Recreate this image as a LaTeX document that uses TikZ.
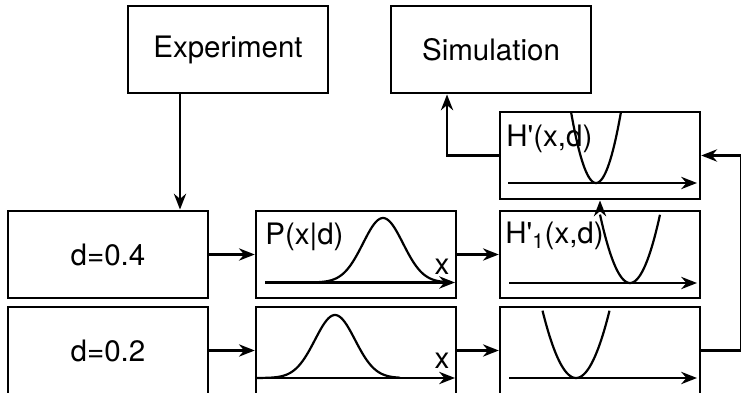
\documentclass[tikz,border=0pt]{standalone}
\usepackage{fontspec}
\usepackage{tikz}
\usetikzlibrary{arrows.meta}
\newfontfamily\boxfont{TeX Gyre Heros}

\begin{document}
\begin{tikzpicture}[
    box/.style={draw, line width=1.4pt, minimum width=4cm, minimum height=1.75cm, font=\boxfont\fontsize{16.8}{19}\selectfont},
    tag/.style={font=\boxfont\fontsize{16.8}{19}\selectfont, inner sep=0pt},
    arrow/.style={-{Stealth[length=9pt,width=7pt]}, line width=1.25pt},
    curve/.style={line width=1.25pt}
]
    \useasboundingbox (0,0) rectangle (14.82,7.86);

    \node[box] (exp) at (4.56, 6.87) {Experiment};
    \node[box] (sim) at (9.82, 6.87) {Simulation};
    \node[box] (hp) at (12.0, 4.75) {};
    \node[box] (d04) at (2.16, 2.77) {d=0.4};
    \node[box] (d02) at (2.16, 0.85) {d=0.2};
    \node[box] (p1) at (7.12, 2.77) {};
    \node[box] (p2) at (7.12, 0.85) {};
    \node[box] (h1) at (12.0, 2.77) {};
    \node[box] (h2) at (12.0, 0.85) {};

    % curves inside the boxes
    \begin{scope}[shift={(p1.center)}]
        \draw[arrow] (-1.82,-0.56) -- (1.98,-0.56);
        \draw[curve] plot[domain=-1.22:1.82, samples=80, smooth] (\x, {-0.56+1.29*exp(-((\x-0.54)^2)/0.32)});
        \node[tag, anchor=base west] (p1lab) at (-1.82,0.19) {P(x|d)};
        \node[tag, anchor=base] (p1x) at (1.72,-0.4) {x};
    \end{scope}
    \begin{scope}[shift={(p2.center)}]
        \draw[arrow] (-2.02,-0.55) -- (1.98,-0.55);
        \draw[curve] plot[domain=-2.02:0.88, samples=80, smooth] (\x, {-0.55+1.26*exp(-((\x+0.42)^2)/0.32)});
        \node[tag, anchor=base] (p2x) at (1.72,-0.36) {x};
    \end{scope}
    \begin{scope}[shift={(hp.center)}]
        \draw[arrow] (-1.84,-0.55) -- (1.94,-0.55);
        \draw[curve] plot[domain=-0.58:0.42, samples=50, smooth] (\x, {-0.55+5.7*(\x+0.08)^2});
        \node[tag, anchor=base west] (hplab) at (-1.88,0.17) {H'(x,d)};
    \end{scope}
    \begin{scope}[shift={(h1.center)}]
        \draw[arrow] (-1.82,-0.57) -- (1.94,-0.57);
        \draw[curve] plot[domain=0.0:1.2, samples=50, smooth] (\x, {-0.57+3.8*(\x-0.6)^2});
        \node[tag, anchor=base west] (h1lab) at (-1.9,0.21) {H'\textsubscript{1}(x,d)};
    \end{scope}
    \begin{scope}[shift={(h2.center)}]
        \draw[arrow] (-1.82,-0.55) -- (1.94,-0.55);
        \draw[curve] plot[domain=-1.15:0.19, samples=50, smooth] (\x, {-0.55+3.0*(\x+0.48)^2});
    \end{scope}

    \coordinate (e) at ([xshift=-0.96cm]exp.south);
    \coordinate (s) at ([xshift=-0.88cm]sim.south);

    \draw[arrow] (e) -- (e |- d04.north);
    \draw[arrow] (d04) -- (p1);
    \draw[arrow] (d02) -- (p2);
    \draw[arrow] (p1) -- (h1);
    \draw[arrow] (p2) -- (h2);
    \draw[arrow] (h1) -- (hp);
    \draw[arrow] (hp.west) -| (s);
    \draw[arrow] (h2.east) -- ++(0.79,0) |- (hp.east);
\end{tikzpicture}
\end{document}
